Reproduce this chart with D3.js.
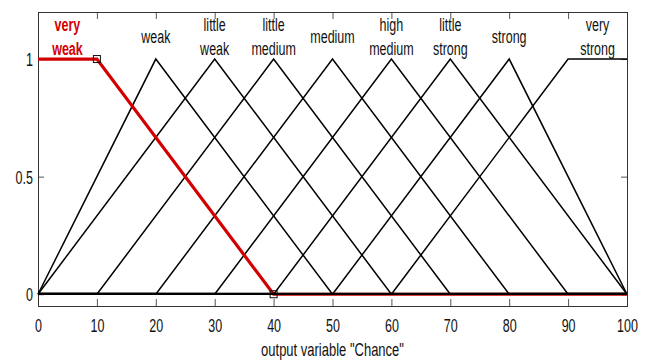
<!DOCTYPE html>
<html>
<head>
<meta charset="utf-8">
<script src="https://cdn.jsdelivr.net/npm/d3@7"></script>
<style>
  html, body { margin: 0; padding: 0; background: #fff; }
  svg { display: block; }
  text { font-family: "Liberation Sans", Arial, Helvetica, sans-serif; }
</style>
</head>
<body>
<svg id="chart" width="648" height="360"></svg>
<script>
// Membership functions of the output variable "Chance"
const mfNames = ["very weak", "weak", "little weak", "little medium", "medium",
                 "high medium", "little strong", "strong", "very strong"];
// trapmf params [a b c d] or trimf params [a b c]
const mfParams = [
  [0, 0, 10, 40],
  [0, 20, 50],
  [0, 30, 60],
  [10, 40, 70],
  [20, 50, 80],
  [30, 60, 90],
  [40, 70, 100],
  [50, 80, 100],
  [60, 90, 100, 100]
];
const selectedMf = 0;
const xRange = [0, 100];
const xTicks = [0, 10, 20, 30, 40, 50, 60, 70, 80, 90, 100];
const yTicks = [0, 0.5, 1];
const yTickLabels = ["0", "0.5", "1"];
const xLabel = 'output variable "Chance"';

const W = 648, H = 360;
const plotLeft = 38, plotRight = 627, plotTop = 12, plotBottom = 306;
const textScale = 1.42;     // tall, narrow lettering
const fontSize = 12.5;
const red = "#d20000";

const svg = d3.select("#chart");
const x = d3.scaleLinear().domain(xRange).range([plotLeft, plotRight]);
const y = d3.scaleLinear().domain([-0.05, 1.2]).range([plotBottom, plotTop]);

// membership value of a trapezoid / triangle
function mfValue(p, v) {
  const [a, b, c, d] = p.length === 3 ? [p[0], p[1], p[1], p[2]] : p;
  if (v < a) return 0;
  if (v < b) return (v - a) / (b - a);
  if (v <= c) return 1;
  if (v < d) return (d - v) / (d - c);
  return 0;
}
function mfPoints(p) {
  const xs = Array.from(new Set([xRange[0], ...p, xRange[1]])).sort((m, n) => m - n);
  return xs.map(v => [v, mfValue(p, v)]);
}
const line = d3.line().x(d => x(d[0])).y(d => y(d[1]));

// frame and ticks
const axisColor = "#333";
function styleAxis(g) {
  g.select(".domain").remove();
  g.selectAll(".tick line").attr("stroke", "#555").attr("stroke-width", 1);
}
const fmt = (v) => yTickLabels[yTicks.indexOf(v)];

const gx = svg.append("g").attr("transform", `translate(0,${plotBottom})`)
  .call(d3.axisBottom(x).tickValues(xTicks).tickSize(-7).tickSizeOuter(0).tickFormat(d3.format("d")))
  .call(styleAxis);
gx.selectAll(".tick text")
  .attr("y", null).attr("dy", null)
  .attr("transform", `translate(0,25.7) scale(1,${textScale})`)
  .attr("fill", "#111").attr("font-size", fontSize)
  .attr("font-family", '"Liberation Sans", Arial, sans-serif');

svg.append("g").attr("transform", `translate(0,${plotTop})`)
  .call(d3.axisTop(x).tickValues(xTicks).tickSize(-7).tickSizeOuter(0).tickFormat(""))
  .call(styleAxis);

const gy = svg.append("g").attr("transform", `translate(${plotLeft},0)`)
  .call(d3.axisLeft(y).tickValues(yTicks).tickSize(-6).tickSizeOuter(0).tickFormat(fmt))
  .call(styleAxis);
gy.selectAll(".tick text")
  .attr("x", null).attr("dy", null).attr("text-anchor", "end")
  .attr("transform", `translate(-5,6.4) scale(1,${textScale})`)
  .attr("fill", "#111").attr("font-size", fontSize)
  .attr("font-family", '"Liberation Sans", Arial, sans-serif');

svg.append("g").attr("transform", `translate(${plotRight},0)`)
  .call(d3.axisRight(y).tickValues(yTicks).tickSize(-6).tickSizeOuter(0).tickFormat(""))
  .call(styleAxis);

svg.append("rect")
  .attr("x", plotLeft + 0.5).attr("y", plotTop + 0.5)
  .attr("width", plotRight - plotLeft).attr("height", plotBottom - plotTop)
  .attr("fill", "none").attr("stroke", axisColor).attr("stroke-width", 1);

// membership function curves
const plot = svg.append("g");
const others = mfParams.map((p, i) => ({ p, i })).filter(d => d.i !== selectedMf);

plot.selectAll("path.mf").data(others).join("path")
  .attr("class", "mf")
  .attr("d", d => line(mfPoints(d.p)))
  .attr("fill", "none").attr("stroke", "#000").attr("stroke-width", 1.5)
  .attr("stroke-linejoin", "miter");

plot.append("path")
  .attr("d", line(mfPoints(mfParams[selectedMf])))
  .attr("fill", "none").attr("stroke", red).attr("stroke-width", 3.2)
  .attr("stroke-linejoin", "miter");

// the zero-level stretch of the black curves stays in front
svg.append("clipPath").attr("id", "zeroBand").append("rect")
  .attr("x", plotLeft).attr("width", plotRight - plotLeft)
  .attr("y", y(0) - 1.5).attr("height", 3);
svg.append("g").attr("clip-path", "url(#zeroBand)")
  .selectAll("path").data(others).join("path")
  .attr("d", d => line(mfPoints(d.p)))
  .attr("transform", "translate(0,-0.6)")
  .attr("fill", "none").attr("stroke", "#000").attr("stroke-width", 2.2);

// handles on the selected function
const sel = mfParams[selectedMf];
const handles = sel.slice(2).map(v => [v, mfValue(sel, v)]);
svg.selectAll("rect.handle").data(handles).join("rect")
  .attr("class", "handle")
  .attr("x", d => x(d[0]) - 3.5).attr("y", d => y(d[1]) - 3.5)
  .attr("width", 7).attr("height", 7)
  .attr("fill", "none").attr("stroke", "#111").attr("stroke-width", 1);

// function names above each peak
const lineGap = 24.3;
function labelX(p) {
  return p.length === 3 ? p[1] : (p[1] + p[2]) / 2;
}
mfNames.forEach((name, i) => {
  const words = name.split(" ");
  const n = words.length;
  const g = svg.append("g");
  words.forEach((w, k) => {
    const base = y(1) - 16 + (k - (n - 1) / 2) * lineGap;
    g.append("text")
      .attr("transform", `translate(${x(labelX(mfParams[i]))},${base}) scale(1,${textScale})`)
      .attr("text-anchor", "middle")
      .attr("font-size", fontSize)
      .attr("font-weight", i === selectedMf ? "bold" : "normal")
      .attr("fill", i === selectedMf ? red : "#111")
      .text(w);
  });
});

// axis title
svg.append("text")
  .attr("transform", `translate(${(plotLeft + plotRight) / 2},355.5) scale(1,${textScale})`)
  .attr("text-anchor", "middle")
  .attr("font-size", 13)
  .attr("fill", "#111")
  .text(xLabel);
</script>
</body>
</html>
